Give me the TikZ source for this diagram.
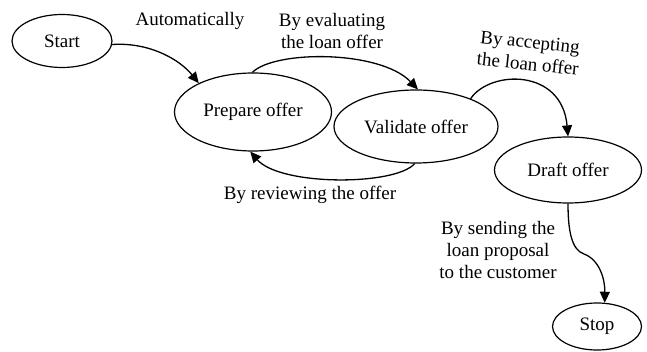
\documentclass[tikz,border=0pt]{standalone}
\usepackage{fontspec}
\setmainfont{Liberation Serif}
\usetikzlibrary{shapes.geometric,arrows.meta}
\begin{document}
\begin{tikzpicture}[x=1pt,y=-1pt,
  state/.style={ellipse,draw,line width=1.2pt,inner sep=0pt,
    font=\fontsize{19}{22}\selectfont},
  lbl/.style={align=center,inner sep=0pt,font=\fontsize{19}{22}\selectfont},
  trans/.style={line width=1.3pt,-{Triangle[length=11pt,width=10pt]}}]
\useasboundingbox (0,0) rectangle (647,352);
% states
\node[state,minimum width=100pt,minimum height=53pt] (start) at (62,41) {Start};
\node[state,minimum width=157pt,minimum height=78pt] (prep) at (253,112) {Prepare offer};
\node[state,minimum width=164pt,minimum height=73pt] (valid) at (416,126.5) {Validate offer};
\node[state,minimum width=147pt,minimum height=66pt] (draft) at (568,170) {Draft offer};
\node[state,minimum width=89pt,minimum height=47pt] (stop) at (597,326.5) {Stop};
% transitions
\draw[trans] (start.-4) .. controls (150,42) and (180,60) .. (prep.152);
\draw[trans] (prep.91) .. controls (275,50) and (380,50) .. (valid.87);
\draw[trans] (valid.268) .. controls (395,186) and (280,186) .. (prep.266);
\draw[trans] (valid.27) .. controls (490,70) and (562,68) .. (draft.north);
\draw[trans] (draft.south) .. controls (568,232) and (572,250) .. (584,254)
  .. controls (600,260) and (605,280) .. (stop.72);
% transition labels
\node[lbl] (l1) at (190,21) {Automatically};
\node[lbl] (l2) at (332,31) {By evaluating\\the loan offer};
\node[lbl,rotate=-6] (l3) at (529,53) {By accepting\\the loan offer};
\node[lbl] (l4) at (310,195) {By reviewing the offer};
\node[lbl] (l5) at (498,250) {By sending the\\loan proposal\\to the customer};
\end{tikzpicture}
\end{document}
